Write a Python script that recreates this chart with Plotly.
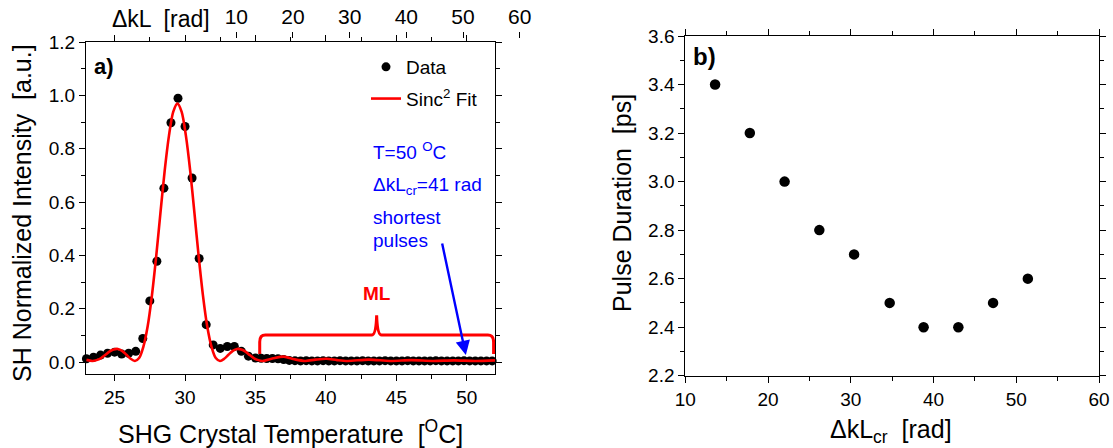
import plotly.graph_objects as go

W, H = 1113, 448
FONT = "Liberation Sans, Arial, sans-serif"

# ---------------- data: panel a) ----------------
temp_data = [23.0, 23.5, 24.0, 24.5, 25.0, 25.5, 26.0, 26.5, 27.0, 27.5, 28.0, 28.5,
             29.0, 29.5, 30.0, 30.5, 31.0, 31.5, 32.0, 32.5, 33.0, 33.5, 34.0, 34.5, 35.0,
             35.4, 35.8, 36.2, 36.6, 37.0, 37.4, 37.8, 38.2, 38.6, 39.0, 39.4, 39.8,
             40.2, 40.6, 41.0, 41.4, 41.8, 42.2, 42.6, 43.0, 43.4, 43.8, 44.2, 44.6,
             45.0, 45.4, 45.8, 46.2, 46.6, 47.0, 47.4, 47.8, 48.2, 48.6, 49.0, 49.4,
             49.8, 50.2, 50.6, 51.0, 51.4, 51.8]
intensity_data = [0.012, 0.018, 0.026, 0.033, 0.037, 0.030, 0.033, 0.040, 0.088, 0.229, 0.378, 0.652,
                  0.897, 0.989, 0.883, 0.690, 0.388, 0.140, 0.064, 0.051, 0.058, 0.058, 0.040, 0.022, 0.015,
                  0.014, 0.013, 0.013, 0.012, 0.009, 0.006, 0.005, 0.004, 0.005, 0.004, 0.004, 0.005,
                  0.004, 0.004, 0.005, 0.004, 0.004, 0.004, 0.005, 0.004, 0.004, 0.004, 0.005, 0.004,
                  0.004, 0.004, 0.005, 0.004, 0.004, 0.004, 0.004, 0.005, 0.004, 0.004, 0.004, 0.004,
                  0.005, 0.004, 0.004, 0.004, 0.004, 0.004]

temp_fit = [23.0, 23.42, 23.72, 24.02, 24.33, 24.63, 24.93, 25.23, 25.53, 25.84, 26.14, 26.44,
            26.74, 27.04, 27.35, 27.65, 27.95, 28.25, 28.55, 28.86, 29.16, 29.46, 29.76, 30.06,
            30.37, 30.67, 30.97, 31.27, 31.57, 31.88, 32.18, 32.48, 32.78, 33.08, 33.39, 33.69,
            33.99, 34.29, 34.59, 34.90, 35.20, 35.50, 36.26, 37.01, 37.77, 38.52, 39.27, 40.03,
            40.79, 41.54, 43.05, 44.56, 46.07, 47.58, 49.09, 50.60, 52.0]
intensity_fit = [0.008, 0.004, 0.007, 0.014, 0.026, 0.039, 0.047, 0.049, 0.042, 0.027, 0.012, 0.004,
                 0.015, 0.057, 0.135, 0.250, 0.395, 0.557, 0.715, 0.849, 0.938, 0.969, 0.938, 0.849,
                 0.715, 0.557, 0.395, 0.250, 0.135, 0.057, 0.015, 0.004, 0.012, 0.027, 0.042, 0.049,
                 0.047, 0.039, 0.026, 0.014, 0.007, 0.004, 0.014, 0.020, 0.010, 0.004, 0.009, 0.012,
                 0.007, 0.004, 0.009, 0.004, 0.007, 0.004, 0.006, 0.004, 0.006]

temp_ticks = [25, 30, 35, 40, 45, 50]
intensity_ticks = [0.0, 0.2, 0.4, 0.6, 0.8, 1.0, 1.2]
dkl_top_ticks = [10, 20, 30, 40, 50, 60]

# ---------------- data: panel b) ----------------
dkl_cr = [13.6, 17.8, 22.0, 26.2, 30.4, 34.7, 38.8, 43.0, 47.2, 51.4]
pulse_duration = [3.4, 3.2, 3.0, 2.8, 2.7, 2.5, 2.4, 2.4, 2.5, 2.6]
dkl_ticks = [10, 20, 30, 40, 50, 60]
duration_ticks = [2.2, 2.4, 2.6, 2.8, 3.0, 3.2, 3.4, 3.6]


def px_x(p):
    return p / W


def px_y(p):
    return 1 - p / H


fig = go.Figure()

fig.add_trace(go.Scatter(
    x=temp_data, y=intensity_data, mode="markers", name="Data",
    marker=dict(color="black", size=9), xaxis="x", yaxis="y",
    legendgroup="a", cliponaxis=False))
fig.add_trace(go.Scatter(
    x=temp_fit, y=intensity_fit, mode="lines", name="Sinc<sup>2</sup> Fit",
    line=dict(color="#ff0000", width=2.6, shape="spline", smoothing=0.8),
    xaxis="x", yaxis="y", legendgroup="b"))
# carrier for the top ΔkL axis
fig.add_trace(go.Scatter(x=[None], y=[None], xaxis="x3", yaxis="y3",
                         showlegend=False, hoverinfo="skip"))
fig.add_trace(go.Scatter(
    x=dkl_cr, y=pulse_duration, mode="markers", showlegend=False,
    marker=dict(color="black", size=10.5), xaxis="x2", yaxis="y2"))

axis_common = dict(showgrid=False, zeroline=False, showline=True, linecolor="black",
                   linewidth=1, mirror="allticks", ticks="outside", ticklen=6,
                   tickcolor="black", tickwidth=1, automargin=False,
                   tickfont=dict(family=FONT, size=19, color="black"))

fig.update_layout(
    width=W, height=H, autosize=False,
    margin=dict(l=0, r=0, t=0, b=0, pad=0, autoexpand=False),
    paper_bgcolor="white",
    plot_bgcolor="rgba(0,0,0,0)",
    font=dict(family=FONT, color="black"),
    xaxis=dict(domain=[px_x(86), px_x(495)], range=[22.97, 52.0], anchor="y",
               tickvals=temp_ticks,
               minor=dict(dtick=2.5, tick0=0, ticks="outside", ticklen=4, tickcolor="black"),
               **axis_common),
    yaxis=dict(domain=[px_y(374), px_y(42)], range=[-0.045, 1.2], anchor="x",
               tickvals=intensity_ticks, ticktext=[f"{v:.1f}" for v in intensity_ticks],
               minor=dict(dtick=0.1, tick0=0, ticks="outside", ticklen=4, tickcolor="black"),
               **axis_common),
    xaxis3=dict(domain=[px_x(86), px_x(530)], range=[-16.52, 61.82], anchor="free",
                position=px_y(38), side="top", tickvals=dkl_top_ticks,
                showline=False, showgrid=False, zeroline=False, ticks="outside",
                ticklen=6, tickcolor="black", automargin=False,
                tickfont=dict(family=FONT, size=21, color="black")),
    yaxis3=dict(domain=[px_y(60), px_y(42)], visible=False, anchor="x3"),
    xaxis2=dict(domain=[px_x(685.3), px_x(1099)], range=[10, 60], anchor="y2",
                tickvals=dkl_ticks,
                minor=dict(dtick=5, tick0=0, ticks="outside", ticklen=4, tickcolor="black"),
                **axis_common),
    yaxis2=dict(domain=[px_y(375.7), px_y(36)], range=[2.2, 3.6], anchor="x2",
                tickvals=duration_ticks, ticktext=[f"{v:.1f}" for v in duration_ticks],
                minor=dict(dtick=0.1, tick0=0, ticks="outside", ticklen=4, tickcolor="black"),
                **axis_common),
    showlegend=True,
    legend=dict(x=px_x(366), y=px_y(48), xanchor="left", yanchor="top",
                bgcolor="rgba(0,0,0,0)", borderwidth=0,
                font=dict(family=FONT, size=19, color="black"),
                traceorder="grouped", tracegroupgap=4, itemwidth=30),
)

ann = []


def add_text(text, x, y, size, color="black", xanchor="center", yanchor="middle",
             angle=0, bold=False):
    ann.append(dict(text=f"<b>{text}</b>" if bold else text, x=px_x(x), y=px_y(y),
                    xref="paper", yref="paper", showarrow=False, xanchor=xanchor,
                    yanchor=yanchor, textangle=angle,
                    font=dict(family=FONT, size=size, color=color)))


# axis titles
add_text("SH Normalized Intensity  [a.u.]", 22, 213, 25, angle=-90)
add_text("SHG Crystal Temperature  [<sup>O</sup>C]", 290, 432, 25)
add_text("Pulse Duration  [ps]", 622, 203, 25, angle=-90)
add_text("ΔkL<sub>cr</sub>  [rad]", 891, 431, 25)
add_text("ΔkL  [rad]", 110, 19, 23, xanchor="left")
# panel labels
add_text("a)", 92, 66, 22, xanchor="left", bold=True)
add_text("b)", 691, 57, 24, xanchor="left", bold=True)
# blue notes
BLUE = "#0000ff"
add_text("T=50 <sup>O</sup>C", 371, 151, 19, BLUE, xanchor="left")
add_text("ΔkL<sub>cr</sub>=41 rad", 371, 186, 19, BLUE, xanchor="left")
add_text("shortest", 371, 217, 19, BLUE, xanchor="left")
add_text("pulses", 371, 240, 19, BLUE, xanchor="left")
# ML label
add_text("ML", 377, 293, 19, "#ff0000", bold=True)

# arrow pointing to the 50 °C region
ann.append(dict(x=49.93, y=0.026, xref="x", yref="y", ax=-24, ay=-113,
                axref="pixel", ayref="pixel", text="", showarrow=True,
                arrowhead=2, arrowsize=1.2, arrowwidth=2.4, arrowcolor=BLUE, standoff=0))

fig.update_layout(annotations=ann)

# curly bracket marking the mode-locked (ML) range
brace = ("M 35.3 0.03 L 35.3 0.075 Q 35.3 0.101 35.7 0.101 L 43.25 0.101 "
         "Q 43.55 0.101 43.6 0.175 Q 43.65 0.101 43.95 0.101 L 51.5 0.101 "
         "Q 51.9 0.101 51.9 0.075 L 51.9 0.03")
fig.add_shape(type="path", path=brace, xref="x", yref="y",
              line=dict(color="#ff0000", width=3))

fig.write_html("out.html")
